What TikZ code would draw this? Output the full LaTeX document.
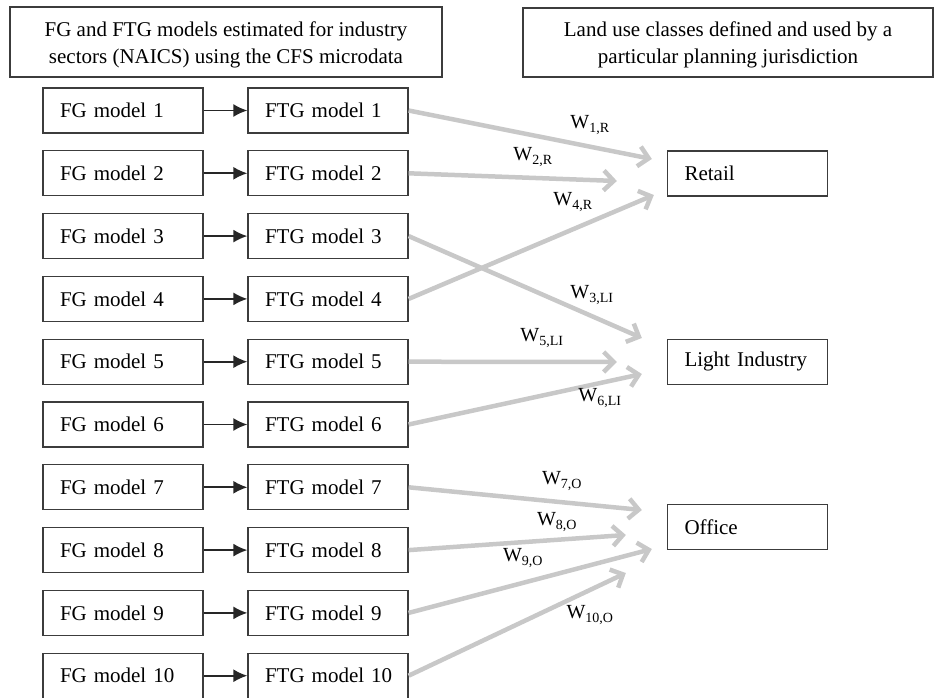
\documentclass[tikz,border=0pt]{standalone}
\usepackage{fontspec}
\setmainfont{Liberation Serif}
\usetikzlibrary{arrows.meta,calc}
\definecolor{boxline}{RGB}{60,60,60}
\definecolor{flowgray}{RGB}{200,200,200}
\begin{document}
\begin{tikzpicture}[x=1pt,y=-1pt,
  every node/.style={font=\fontsize{21}{27}\selectfont},
  headframe/.style={draw=boxline,line width=1.6pt},
  headtext/.style={align=center,inner sep=0pt},
  modelbox/.style={draw=boxline,line width=1.3pt,text width=126pt,inner xsep=17pt,inner ysep=0pt,
    minimum height=45pt,align=left},
  classbox/.style={modelbox},
  feed/.style={line width=1.7pt,black!85,-{Latex[length=14pt,width=13pt]}},
  weight/.style={line width=4.5pt,flowgray,-{Straight Barb[length=10pt,width=20pt]}},
  wlabel/.style={font=\fontsize{20}{24}\selectfont,inner sep=0pt}]
\useasboundingbox (0,0) rectangle (934,698);

% column headers
\draw[headframe] (10,7) rectangle (442,77);
\node[headtext] (hleft) at (226,44.5)
  {FG and FTG models estimated for industry\\sectors (NAICS) using the CFS microdata};
\draw[headframe] (523,8) rectangle (933,77);
\node[headtext] (hright) at (728,44.5)
  {Land use classes defined and used by a\\particular planning jurisdiction};

% FG -> FTG model chains
\foreach \i in {1,...,10}{
  \pgfmathsetmacro{\yy}{110.5+62.8*(\i-1)}
  \node[modelbox] (fg\i) at (123,\yy) {FG~model~\i};
  \node[modelbox] (ftg\i) at (328,\yy) {FTG~model~\i};
  \draw[feed] (fg\i.east) -- (ftg\i.west);
}

% land use classes
\node[classbox] (retail) at (747.5,173.5) {Retail};
\node[classbox] (light) at (747.5,361.7) {Light~Industry};
\node[classbox] (office) at (747.5,527) {Office};

% arrow end points in front of each class box
\coordinate (t1) at ($(retail.west)+(-15,-14.5)$);
\coordinate (t2) at ($(retail.west)+(-50,7.5)$);
\coordinate (t4) at ($(retail.west)+(-13,21.5)$);
\coordinate (t3) at ($(light.west)+(-25,-23.7)$);
\coordinate (t5) at ($(light.west)+(-50,0.3)$);
\coordinate (t6) at ($(light.west)+(-25,12.3)$);
\coordinate (t7) at ($(office.west)+(-25,-17)$);
\coordinate (t8) at ($(office.west)+(-41,8)$);
\coordinate (t9) at ($(office.west)+(-15,22)$);
\coordinate (t10) at ($(office.west)+(-41,46)$);

% weighted links from FTG models to land use classes
\foreach \i in {1,...,10}{
  \draw[weight] (ftg\i.east) -- (t\i);
}

% weights
\node[wlabel] (w1) at (590,125) {W\textsubscript{1,R}};
\node[wlabel] (w2) at (533,157) {W\textsubscript{2,R}};
\node[wlabel] (w4) at (573,202) {W\textsubscript{4,R}};
\node[wlabel] (w3) at (592,295) {W\textsubscript{3,LI}};
\node[wlabel] (w5) at (542,338) {W\textsubscript{5,LI}};
\node[wlabel] (w6) at (600,398) {W\textsubscript{6,LI}};
\node[wlabel] (w7) at (562,481) {W\textsubscript{7,O}};
\node[wlabel] (w8) at (557,522) {W\textsubscript{8,O}};
\node[wlabel] (w9) at (523,558) {W\textsubscript{9,O}};
\node[wlabel] (w10) at (590,615) {W\textsubscript{10,O}};
\end{tikzpicture}
\end{document}
